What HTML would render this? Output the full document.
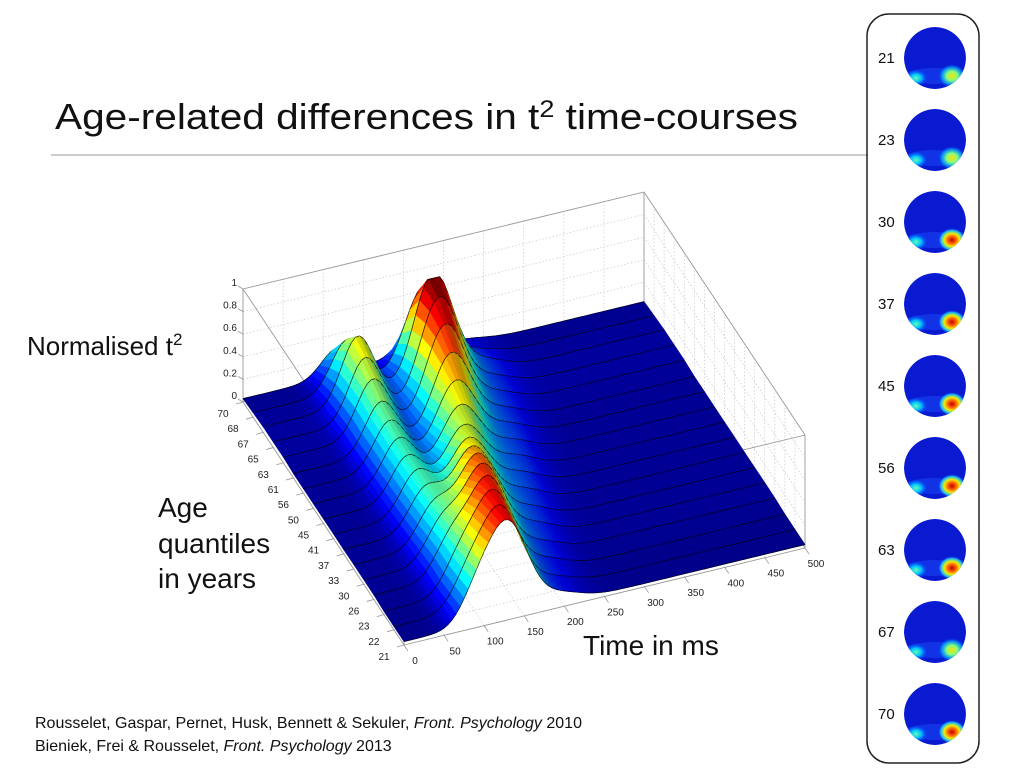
<!DOCTYPE html>
<html><head><meta charset="utf-8">
<style>
html,body{margin:0;padding:0;background:#fff;}
svg{display:block;font-family:"Liberation Sans",Arial,sans-serif;}
</style></head>
<body>
<svg id="root" width="1024" height="768" viewBox="0 0 1024 768" xmlns="http://www.w3.org/2000/svg">
<defs>
<radialGradient id="hot" cx="50%" cy="50%" r="50%"><stop offset="0" stop-color="#c00000"/><stop offset="0.3" stop-color="#ff6000"/><stop offset="0.55" stop-color="#f0f000"/><stop offset="0.8" stop-color="#20e0ff" stop-opacity="0.8"/><stop offset="1" stop-color="#0030ff" stop-opacity="0"/></radialGradient>
<radialGradient id="warm" cx="50%" cy="50%" r="50%"><stop offset="0" stop-color="#ffe000"/><stop offset="0.4" stop-color="#80ff80"/><stop offset="0.75" stop-color="#00b0ff" stop-opacity="0.7"/><stop offset="1" stop-color="#0030ff" stop-opacity="0"/></radialGradient>
<radialGradient id="cool" cx="50%" cy="50%" r="50%"><stop offset="0" stop-color="#60ffb0"/><stop offset="0.45" stop-color="#00c0ff"/><stop offset="1" stop-color="#0030ff" stop-opacity="0"/></radialGradient>
</defs>
<text x="55" y="129" font-size="36" textLength="743" lengthAdjust="spacingAndGlyphs" fill="#111">Age-related differences in t<tspan font-size="24" dy="-12">2</tspan><tspan dy="12"> time-courses</tspan></text>
<line x1="51" y1="155" x2="868" y2="155" stroke="#bbb" stroke-width="1.5"/>
<g id="chart"></g>
<text x="27" y="355" font-size="26" fill="#111">Normalised t<tspan font-size="17" dy="-10">2</tspan></text>
<text font-size="28" fill="#111"><tspan x="158" y="517">Age</tspan><tspan x="158" y="553">quantiles</tspan><tspan x="158" y="588">in years</tspan></text>
<text x="583" y="655" font-size="28" fill="#111">Time in ms</text>
<text x="35" y="728" font-size="16" fill="#111">Rousselet, Gaspar, Pernet, Husk, Bennett &amp; Sekuler, <tspan font-style="italic">Front. Psychology</tspan> 2010</text>
<text x="35" y="751" font-size="16" fill="#111">Bieniek, Frei &amp; Rousselet, <tspan font-style="italic">Front. Psychology</tspan> 2013</text>
<rect x="867" y="14" width="112" height="749" rx="22" ry="22" fill="none" stroke="#222" stroke-width="1.5"/>
<g id="topos"></g>
</svg>
<script>
// ---- data ----
const ageLabels = ['21','22','23','26','30','33','37','41','45','50','56','61','63','65','67','68','70'];
const timeTicks = [0,50,100,150,200,250,300,350,400,450,500];
const zTicks = [0,0.2,0.4,0.6,0.8,1];
const baseLevel = [0.03,0.03,0.03,0.04,0.04,0.04,0.04,0.04,0.04,0.04,0.04,0.04,0.05,0.05,0.05,0.04,0.03];
const amp1 = [0.28,0.28,0.30,0.32,0.34,0.35,0.36,0.38,0.38,0.40,0.42,0.45,0.50,0.55,0.60,0.45,0.25];
const lat1 = [92,93,95,96,98,100,102,104,105,107,108,110,112,115,118,118,118];
const amp2 = [0.80,0.80,0.80,0.78,0.75,0.70,0.62,0.55,0.52,0.55,0.62,0.72,0.82,0.92,1.00,0.75,0.20];
const lat2 = [130,133,137,142,148,154,160,168,175,183,190,197,202,207,212,213,212];
const amp3 = [0.10,0.10,0.12,0.12,0.14,0.14,0.15,0.15,0.15,0.14,0.14,0.13,0.12,0.12,0.12,0.08,0.05];
const topoAges = ['21','23','30','37','45','56','63','67','70'];
const topoRight = ['warm','warm','hot','hot','hot','hot','hot','warm','hot'];

// ---- projection ----
const OX=404, OY=645, TX=401/500, TY=-97/500, AX=-161/16, AY=-243/16, ZH=113;
function px(t,i){return OX+TX*t+AX*i;}
function py(t,i,z){return OY+TY*t+AY*i-ZH*z;}
const NS='http://www.w3.org/2000/svg';
const chart=document.getElementById('chart');
function mk(tag,attrs,parent){const e=document.createElementNS(NS,tag);for(const k in attrs)e.setAttribute(k,attrs[k]);(parent||chart).appendChild(e);return e;}
function g(t,m,s){return Math.exp(-0.5*((t-m)/s)*((t-m)/s));}
function zval(i,t){let v=baseLevel[i]+amp1[i]*g(t,lat1[i],20)+amp2[i]*g(t,lat2[i],24)+amp3[i]*g(t,lat2[i]+60,28);return Math.min(1,v);}
function jet(v,sh){const c=x=>Math.round(255*sh*Math.max(0,Math.min(1,x)));return 'rgb('+c(1.5-Math.abs(4*v-3))+','+c(1.5-Math.abs(4*v-2))+','+c(1.5-Math.abs(4*v-1))+')';}

// ---- box & grids ----
const gridG=mk('g',{});


const dot={stroke:'#c8c8c8','stroke-width':0.7,'stroke-dasharray':'1.5 2',fill:'none'};
function L(x1,y1,x2,y2,st,name,par){const e=mk('line',Object.assign({x1,y1,x2,y2},st),par);return e;}
const NA=ageLabels.length-1;
timeTicks.forEach(t=>{
  L(px(t,0),py(t,0,0),px(t,NA),py(t,NA,0),dot,'floor-grid-line',gridG);
  L(px(t,NA),py(t,NA,0),px(t,NA),py(t,NA,1),dot,'back-wall-grid-line',gridG);
});
ageLabels.forEach((a,i)=>{
  L(px(0,i),py(0,i,0),px(500,i),py(500,i,0),dot,'floor-grid-line',gridG);
  L(px(500,i),py(500,i,0),px(500,i),py(500,i,1),dot,'side-wall-grid-line',gridG);
});
zTicks.forEach(z=>{
  L(px(0,NA),py(0,NA,z),px(500,NA),py(500,NA,z),dot,'back-wall-grid-line',gridG);
  L(px(500,NA),py(500,NA,z),px(500,0),py(500,0,z),dot,'side-wall-grid-line',gridG);
});
const edge={stroke:'#999','stroke-width':0.9};
[[0,0],[500,0],[0,NA],[500,NA]].forEach(([t,i])=>L(px(t,i),py(t,i,0),px(t,i),py(t,i,1),edge,'box-edge',gridG));
[0,1].forEach(z=>{
  L(px(0,0),py(0,0,z),px(500,0),py(500,0,z),edge,'box-edge',gridG);
  L(px(0,NA),py(0,NA,z),px(500,NA),py(500,NA,z),edge,'box-edge',gridG);
  L(px(0,0),py(0,0,z),px(0,NA),py(0,NA,z),edge,'box-edge',gridG);
  L(px(500,0),py(500,0,z),px(500,NA),py(500,NA,z),edge,'box-edge',gridG);
});

// ---- surface ----
const surf=mk('g',{});


const DT=5, NT=500/DT;
const quads=[];
for(let i=0;i<NA;i++)for(let j=0;j<NT;j++)quads.push([i,j]);
quads.sort((a,b)=>{const da=py(a[1]*DT+DT/2,a[0]+0.5,0), db=py(b[1]*DT+DT/2,b[0]+0.5,0);return da-db;});
quads.forEach(([i,j])=>{
  const t0=j*DT,t1=t0+DT;
  const z00=zval(i,t0),z01=zval(i,t1),z10=zval(i+1,t0),z11=zval(i+1,t1);
  const zm=(z00+z01+z10+z11)/4;
  const dz=((z01-z00)+(z11-z10))/2;
  const sh=Math.max(0.7,Math.min(1,0.88+dz*4));
  const col=jet(zm,sh);
  const pts=[[px(t0,i),py(t0,i,z00)],[px(t1,i),py(t1,i,z01)],[px(t1,i+1),py(t1,i+1,z11)],[px(t0,i+1),py(t0,i+1,z10)]];
  const d='M'+pts.map(p=>p[0].toFixed(1)+','+p[1].toFixed(1)).join('L')+'Z';
  const q=mk('path',{d,fill:col,stroke:col,'stroke-width':0.6,'stroke-linejoin':'round'},surf);
  
  
  const slope=Math.abs(z01-z00)+Math.abs(z11-z10);
  if(slope>0.012){
    const c=mk('path',{d:'M'+pts[0][0].toFixed(1)+','+pts[0][1].toFixed(1)+'L'+pts[3][0].toFixed(1)+','+pts[3][1].toFixed(1),stroke:'rgba(0,0,0,0.35)','stroke-width':0.5,fill:'none'},surf);
    
    
  }
  const r=mk('path',{d:'M'+pts[0][0].toFixed(1)+','+pts[0][1].toFixed(1)+'L'+pts[1][0].toFixed(1)+','+pts[1][1].toFixed(1)+'M'+pts[3][0].toFixed(1)+','+pts[3][1].toFixed(1)+'L'+pts[2][0].toFixed(1)+','+pts[2][1].toFixed(1),stroke:'rgba(0,0,0,0.8)','stroke-width':0.7,fill:'none'},surf);
  
  
});

// ---- tick labels ----
const lab={fill:'#222','font-size':10,'text-anchor':'middle'};
zTicks.forEach(z=>{
  const e=mk('text',Object.assign({},lab,{x:px(0,NA)-6,y:py(0,NA,z)-3,'text-anchor':'end'}));
  e.textContent=String(z);
  
  
  L(px(0,NA),py(0,NA,z),px(0,NA)-5,py(0,NA,z)-3,{stroke:'#999','stroke-width':0.8},'z-tick',chart);
});
ageLabels.forEach((a,i)=>{
  L(px(0,i),py(0,i,0),px(0,i)-7,py(0,i,0)+2,{stroke:'#999','stroke-width':0.8},'age-tick',chart);
  const e=mk('text',Object.assign({},lab,{x:px(0,i)-20,y:py(0,i,0)+15}));
  e.textContent=a;
  
  
});
timeTicks.forEach(t=>{
  L(px(t,0),py(t,0,0),px(t,0)+4,py(t,0,0)+6,{stroke:'#999','stroke-width':0.8},'time-tick',chart);
  const e=mk('text',Object.assign({},lab,{x:px(t,0)+11,y:py(t,0,0)+19}));
  e.textContent=String(t);
  
  
});

// ---- topomaps ----
const topos=document.getElementById('topos');
topoAges.forEach((a,k)=>{
  const cy=58+82*k, cx=935, r=31;
  const grp=mk('g',{},topos);
  
  
  const cp=mk('clipPath',{id:'cp'+k},grp);
  mk('circle',{cx,cy,r},cp);
  const inner=mk('g',{'clip-path':'url(#cp'+k+')'},grp);
  mk('circle',{cx,cy,r,fill:'#0a1ad0'},inner);
  mk('ellipse',{cx:cx,cy:cy+18,rx:30,ry:8,fill:'#1a50ff',opacity:0.45},inner);
  mk('ellipse',{cx:cx-19,cy:cy+20,rx:12,ry:9,fill:'url(#cool)'},inner);
  mk('ellipse',{cx:cx+17,cy:cy+18,rx:14,ry:12,fill:'url(#'+topoRight[k]+')'},inner);
  const t=mk('text',{x:878,y:cy+5,'font-size':15,fill:'#111'},grp);
  t.textContent=a;
  
  
});
</script>
</body></html>
